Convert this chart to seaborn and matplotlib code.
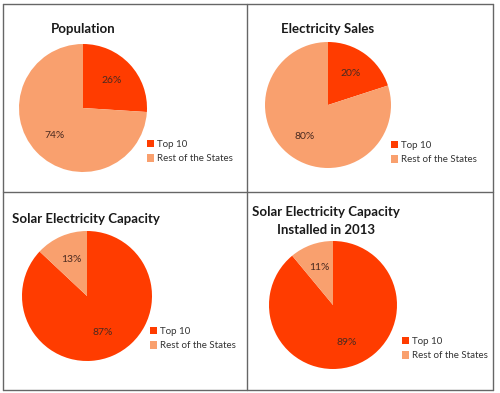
import matplotlib
matplotlib.use("Agg")
import matplotlib.pyplot as plt
import seaborn as sns
from matplotlib.lines import Line2D

sns.set_theme(style="white")
plt.rcParams['font.family'] = ['Lato', 'DejaVu Sans']

categories = ["Top 10", "Rest of the States"]
titles = ["Population", "Electricity Sales", "Solar Electricity Capacity",
          "Solar Electricity Capacity\nInstalled in 2013"]
population = [26, 74]
electricity_sales = [20, 80]
solar_capacity = [87, 13]
solar_2013 = [89, 11]
series = [population, electricity_sales, solar_capacity, solar_2013]

colors = ["#FF3C00", "#F9A06E"]

W, H = 500, 393
fig = plt.figure(figsize=(W / 100, H / 100), dpi=100)
fig.patch.set_facecolor("white")

# layout in pixels: pie center x, y, radius; title x, y; legend x, y(top)
layout = [
    dict(cx=83, cy=108, r=64, tx=83, ty=29, lx=147, ly=140),
    dict(cx=328, cy=105, r=63, tx=328, ty=29, lx=391, ly=141),
    dict(cx=87, cy=296, r=65, tx=86, ty=219, lx=150, ly=327),
    dict(cx=333, cy=305, r=64, tx=326, ty=221, lx=402, ly=337),
]

def fx(px):
    return px / W

def fy(py):
    return 1 - py / H

for vals, title, L in zip(series, titles, layout):
    cx, cy, r = L["cx"], L["cy"], L["r"]
    ax = fig.add_axes([fx(cx - r), fy(cy + r), 2 * r / W, 2 * r / H])
    wedges, texts, autotexts = ax.pie(
        vals, colors=colors, startangle=90, counterclock=False,
        autopct="%d%%", pctdistance=0.62, radius=1.0,
        wedgeprops=dict(linewidth=0),
        textprops=dict(fontsize=7.5, color="#4a2a20"))
    ax.set_xlim(-1, 1)
    ax.set_ylim(-1, 1)
    ax.set_axis_off()
    fig.text(fx(L["tx"]), fy(L["ty"]), title, ha="center", va="center",
             fontsize=9.5, fontweight="bold", color="#1a1a1a", linespacing=1.5)
    ax.legend(wedges, categories, loc="upper left",
              bbox_to_anchor=(fx(L["lx"]), fy(L["ly"])),
              bbox_transform=fig.transFigure, frameon=False,
              fontsize=7, handlelength=0.75, handleheight=0.75,
              handletextpad=0.3, labelspacing=0.55, borderpad=0,
              borderaxespad=0, labelcolor="#333333")

# panel borders
border = "#666666"
def hline(y, x0, x1):
    fig.add_artist(Line2D([fx(x0), fx(x1)], [fy(y), fy(y)], color=border, lw=1.0,
                          transform=fig.transFigure))
def vline(x, y0, y1):
    fig.add_artist(Line2D([fx(x), fx(x)], [fy(y0), fy(y1)], color=border, lw=1.0,
                          transform=fig.transFigure))

hline(4, 3, 493)
hline(192, 3, 493)
hline(390, 3, 493)
vline(3, 4, 390)
vline(247, 4, 390)
vline(493, 4, 390)

fig.savefig("out.png", dpi=100)
